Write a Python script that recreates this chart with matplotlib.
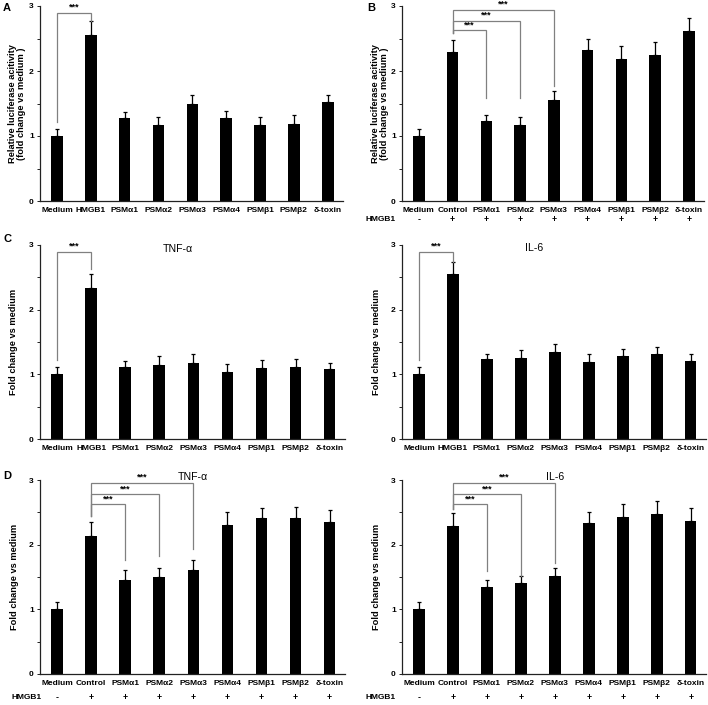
import matplotlib
matplotlib.use('Agg')
import matplotlib.pyplot as plt
from matplotlib.ticker import MultipleLocator, FixedLocator

plt.rcParams['font.family'] = ['Liberation Sans', 'DejaVu Sans']

# ---------------- data ----------------
labels_A = ['Medium', 'HMGB1', 'PSMα1', 'PSMα2', 'PSMα3', 'PSMα4', 'PSMβ1', 'PSMβ2', 'δ-toxin']
labels_B = ['Medium', 'Control', 'PSMα1', 'PSMα2', 'PSMα3', 'PSMα4', 'PSMβ1', 'PSMβ2', 'δ-toxin']
hmgb1_signs = ['-', '+', '+', '+', '+', '+', '+', '+', '+']

vals_A = [1.00, 2.56, 1.28, 1.17, 1.50, 1.28, 1.17, 1.19, 1.52]
err_A = [0.11, 0.21, 0.09, 0.13, 0.13, 0.11, 0.13, 0.13, 0.11]

vals_B = [1.00, 2.29, 1.23, 1.17, 1.56, 2.33, 2.19, 2.24, 2.61]
err_B = [0.11, 0.19, 0.10, 0.13, 0.13, 0.16, 0.20, 0.21, 0.20]

vals_C_tnf = [1.00, 2.34, 1.11, 1.15, 1.18, 1.04, 1.10, 1.12, 1.08]
err_C_tnf = [0.11, 0.21, 0.10, 0.13, 0.14, 0.12, 0.12, 0.12, 0.09]

vals_C_il6 = [1.00, 2.55, 1.23, 1.26, 1.34, 1.19, 1.28, 1.31, 1.21]
err_C_il6 = [0.11, 0.19, 0.09, 0.12, 0.13, 0.13, 0.11, 0.12, 0.11]

vals_D_tnf = [1.00, 2.13, 1.46, 1.50, 1.61, 2.30, 2.41, 2.42, 2.35]
err_D_tnf = [0.12, 0.22, 0.15, 0.14, 0.16, 0.20, 0.16, 0.17, 0.18]

vals_D_il6 = [1.00, 2.29, 1.35, 1.40, 1.51, 2.34, 2.43, 2.47, 2.36]
err_D_il6 = [0.12, 0.20, 0.11, 0.12, 0.13, 0.17, 0.20, 0.21, 0.21]

# significance brackets: (i, j, left_bottom, top, right_bottom, star_y)
brk_A = [(0, 1, 1.22, 2.90, 2.77, 2.99)]
brk_B = [(1, 2, 2.58, 2.63, 1.58, 2.71),
         (1, 3, 2.58, 2.77, 1.58, 2.86),
         (1, 4, 2.58, 2.94, 1.77, 3.03)]
brk_C_tnf = [(0, 1, 1.22, 2.89, 2.63, 2.98)]
brk_C_il6 = [(0, 1, 1.22, 2.89, 2.74, 2.98)]
brk_D_tnf = [(1, 2, 2.45, 2.63, 1.77, 2.70),
             (1, 3, 2.45, 2.78, 1.82, 2.86),
             (1, 4, 2.45, 2.95, 1.93, 3.04)]
brk_D_il6 = [(1, 2, 2.55, 2.63, 1.59, 2.70),
             (1, 3, 2.55, 2.78, 1.52, 2.86),
             (1, 4, 2.55, 2.95, 1.72, 3.04)]

W, H = 708, 705
fig = plt.figure(figsize=(W / 100, H / 100), dpi=100)


def px_axes(left, right, top, bottom):
    return fig.add_axes([left / W, 1 - bottom / H, (right - left) / W, (bottom - top) / H])


def panel(ax, labels, vals, errs, brks, ylabel, lab_x, title=None, title_xy=None):
    x = list(range(len(vals)))
    ax.bar(x, vals, width=0.34, color='black', zorder=2)
    ax.errorbar(x, vals, yerr=[[0] * len(errs), errs], fmt='none', ecolor='black',
                elinewidth=0.9, capsize=1.6, capthick=0.9, zorder=3)
    ax.set_xlim(-0.5, 8.45)
    ax.set_ylim(0, 3)
    for s in ['top', 'right']:
        ax.spines[s].set_visible(False)
    for s in ['left', 'bottom']:
        ax.spines[s].set_linewidth(0.9)
        ax.spines[s].set_color('#222222')
    ax.yaxis.set_major_locator(FixedLocator([0, 1, 2, 3]))
    ax.yaxis.set_minor_locator(MultipleLocator(0.5))
    ax.tick_params(axis='y', which='both', direction='out', length=2.5, width=0.7,
                   labelsize=6, pad=2, color='#222222')
    ax.set_yticklabels(['0', '1', '2', '3'], fontweight='bold')
    ax.set_xticks(x)
    ax.set_xticklabels(labels, fontsize=6, fontweight='bold')
    ax.tick_params(axis='x', length=0, pad=4.0)
    ax.set_ylabel(ylabel, fontsize=6.7, fontweight='bold', linespacing=1.05)
    ax.yaxis.set_label_coords(lab_x, 0.5)
    for (i, j, lb, top, rb, sy) in brks:
        ax.plot([i, i, j, j], [lb, top, top, rb], color='#808080', lw=0.9,
                clip_on=False, zorder=4, solid_joinstyle='miter')
        ax.text((i + j) / 2, sy, '***', ha='center', va='center', fontsize=6.5,
                fontweight='bold', clip_on=False)
    if title:
        ax.text(title_xy[0], title_xy[1], title, ha='center', va='center', fontsize=7.6,
                clip_on=False)
    return ax


def hmgb1_row(ax, signs, y, lab_x):
    ax.text(lab_x, y, 'HMGB1', ha='right', va='center', fontsize=6, fontweight='bold',
            clip_on=False)
    for i, s in enumerate(signs):
        ax.text(i, y, s, ha='center', va='center', fontsize=6.2, fontweight='bold',
                clip_on=False)


ylab_rel = 'Relative luciferase acitivity\n(fold change vs medium )'
ylab_fold = 'Fold change vs medium'

axA = px_axes(40, 343, 6, 201)
panel(axA, labels_A, vals_A, err_A, brk_A, ylab_rel, -0.046)

axB = px_axes(402, 704, 6, 201)
panel(axB, labels_B, vals_B, err_B, brk_B, ylab_rel, -0.043)
hmgb1_row(axB, hmgb1_signs, -0.28, -0.68)

axC1 = px_axes(40, 345, 245, 439)
panel(axC1, labels_A, vals_C_tnf, err_C_tnf, brk_C_tnf, ylab_fold, -0.071,
      'TNF-α', (3.55, 2.94))

axC2 = px_axes(402, 706, 245, 439)
panel(axC2, labels_A, vals_C_il6, err_C_il6, brk_C_il6, ylab_fold, -0.07,
      'IL-6', (3.4, 2.96))

axD1 = px_axes(40, 345, 480, 674)
panel(axD1, labels_B, vals_D_tnf, err_D_tnf, brk_D_tnf, ylab_fold, -0.069,
      'TNF-α', (3.98, 3.05))
hmgb1_row(axD1, hmgb1_signs, -0.37, -0.44)

axD2 = px_axes(402, 706, 480, 674)
panel(axD2, labels_B, vals_D_il6, err_D_il6, brk_D_il6, ylab_fold, -0.07,
      'IL-6', (4.02, 3.05))
hmgb1_row(axD2, hmgb1_signs, -0.37, -0.68)

for letter, xp, yp in [('A', 3, 3), ('B', 367, 3), ('C', 3, 234), ('D', 3, 471)]:
    fig.text(xp / W, 1 - yp / H, letter, ha='left', va='top', fontsize=8,
             fontweight='bold')

fig.savefig('out.png', dpi=100)
